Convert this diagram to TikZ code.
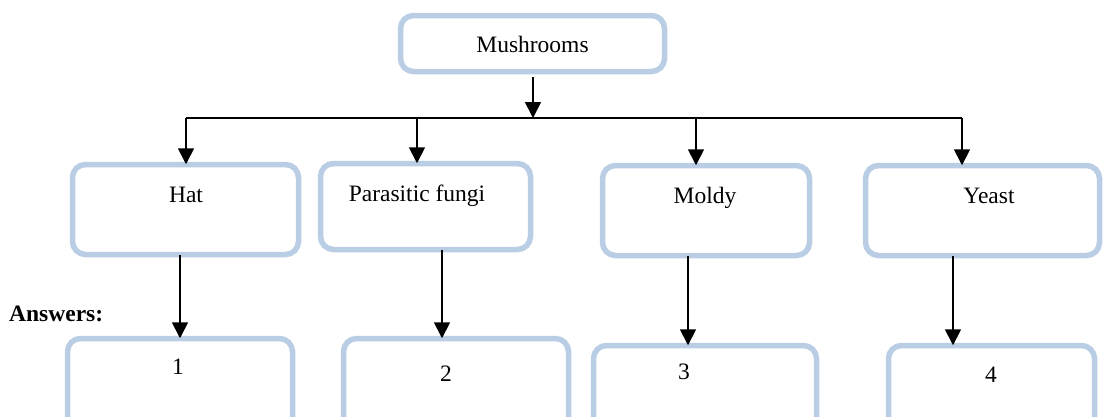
\documentclass[tikz,border=0pt]{standalone}
\usepackage{fontspec}
\setmainfont{Liberation Serif}
\usetikzlibrary{arrows.meta}
\definecolor{boxblue}{RGB}{185,205,229}
\begin{document}
\begin{tikzpicture}[x=1pt,y=-1pt,
  box/.style={draw=boxblue,line width=5.5pt,rounded corners=13pt,rectangle,inner sep=0pt,fill=white},
  txt/.style={anchor=base,inner sep=0pt,font=\fontsize{23.5}{28}\selectfont},
  arr/.style={line width=1.8pt,-{Triangle[width=16pt,length=16pt]}},
  conn/.style={line width=1.8pt}]
\useasboundingbox (0,0) rectangle (1106,416);
\clip (0,0) rectangle (1106,416);
% boxes
\node[box,minimum width=264pt,minimum height=56pt] (mush) at (532.5,43.5) {};
\node[box,minimum width=226pt,minimum height=90pt] (hat) at (185.5,209.5) {};
\node[box,minimum width=210pt,minimum height=86pt] (para) at (425.5,206.5) {};
\node[box,minimum width=207pt,minimum height=90pt] (mold) at (706,210.5) {};
\node[box,minimum width=234pt,minimum height=90pt] (yeast) at (982.5,210.5) {};
\node[box,minimum width=225pt,minimum height=100pt] (a1) at (180,388.5) {};
\node[box,minimum width=225pt,minimum height=100pt] (a2) at (456,388.5) {};
\node[box,minimum width=223pt,minimum height=100pt] (a3) at (705,395.5) {};
\node[box,minimum width=206pt,minimum height=100pt] (a4) at (991.5,395.5) {};
% texts
\node[txt] (tm) at (532.5,52) {Mushrooms};
\node[txt] (th) at (186,202) {Hat};
\node[txt] (tp) at (417,201) {Parasitic fungi};
\node[txt] (tmo) at (705,203) {Moldy};
\node[txt] (ty) at (989,203) {Yeast};
\node[txt] (t1) at (178,374) {1};
\node[txt] (t2) at (446,381) {2};
\node[txt] (t3) at (684,379) {3};
\node[txt] (t4) at (991,382) {4};
\node[txt,anchor=base west,font=\fontsize{23.5}{28}\selectfont\bfseries] (ans) at (9,321) {Answers:};
% connectors
\coordinate (jm) at (533,118);
\coordinate (j1) at (186,118);
\coordinate (j2) at (417,118);
\coordinate (j3) at (696,118);
\coordinate (j4) at (962,118);
\draw[arr] ([yshift=-2.5pt]mush.south -| jm) -- (jm);
\draw[conn] (j1) -- (j4);
\draw[arr] (j1) -- ([yshift=-2.5pt]hat.north -| j1);
\draw[arr] (j2) -- ([yshift=-2.5pt]para.north -| j2);
\draw[arr] (j3) -- ([yshift=-2.5pt]mold.north -| j3);
\draw[arr] (j4) -- ([yshift=-2.5pt]yeast.north -| j4);
\coordinate (d1) at (180,0);
\coordinate (d2) at (442,0);
\coordinate (d3) at (688,0);
\coordinate (d4) at (953,0);
\draw[arr] ([yshift=2.5pt]hat.south -| d1) -- ([yshift=-2.5pt]a1.north -| d1);
\draw[arr] ([yshift=2.5pt]para.south -| d2) -- ([yshift=-2.5pt]a2.north -| d2);
\draw[arr] ([yshift=2.5pt]mold.south -| d3) -- ([yshift=-2.5pt]a3.north -| d3);
\draw[arr] ([yshift=2.5pt]yeast.south -| d4) -- ([yshift=-2.5pt]a4.north -| d4);
\end{tikzpicture}
\end{document}
